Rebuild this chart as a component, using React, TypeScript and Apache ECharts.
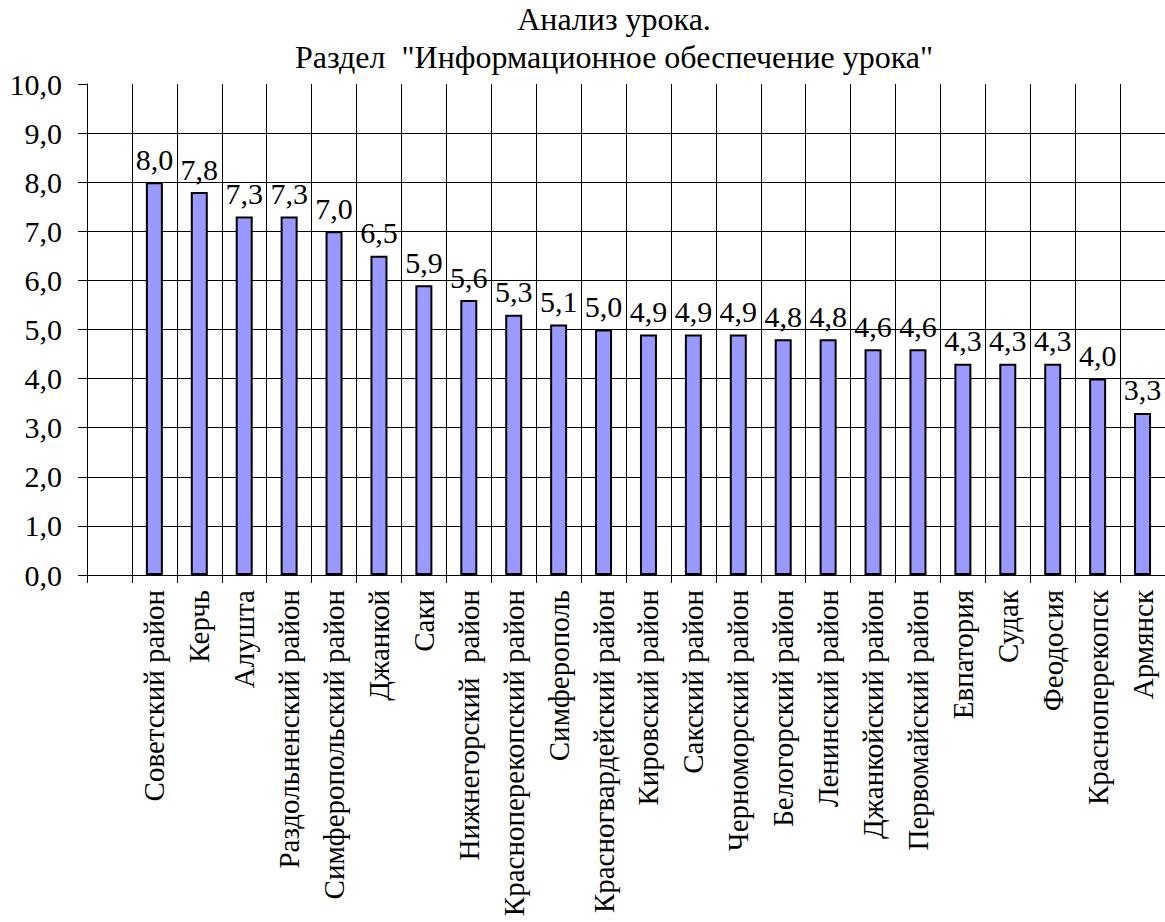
import React, { useEffect, useRef } from "react";
import * as echarts from "echarts";

const categories: string[] = [
  "",
  "Советский район",
  "Керчь",
  "Алушта",
  "Раздольненский район",
  "Симферопольский район",
  "Джанкой",
  "Саки",
  "Нижнегорский  район",
  "Красноперекопский район",
  "Симферополь",
  "Красногвардейский район",
  "Кировский район",
  "Сакский район",
  "Черноморский район",
  "Белогорский район",
  "Ленинский район",
  "Джанкойский район",
  "Первомайский район",
  "Евпатория",
  "Судак",
  "Феодосия",
  "Красноперекопск",
  "Армянск",
];

const values: (number | string)[] = [
  "-", 8.0, 7.8, 7.3, 7.3, 7.0, 6.5, 5.9, 5.6, 5.3, 5.1, 5.0, 4.9, 4.9, 4.9, 4.8, 4.8, 4.6, 4.6, 4.3, 4.3, 4.3, 4.0, 3.3,
];

const titleLines: string[] = [
  "Анализ урока.",
  'Раздел  "Информационное обеспечение урока"',
];

const fmt = (v: number) => v.toFixed(1).replace(".", ",");
const FONT = "Liberation Serif";

export default function App() {
  const ref = useRef<HTMLDivElement>(null);
  useEffect(() => {
    if (!ref.current) return;
    const chart = echarts.init(ref.current, undefined, { renderer: "svg" });
    chart.setOption({
      animation: false,
      backgroundColor: "#ffffff",
      graphic: titleLines.map((t, i) => ({
        type: "text",
        x: 614,
        y: 19 + i * 38,
        style: {
          text: t,
          fontFamily: FONT,
          fontSize: 32,
          fill: "#000",
          textAlign: "center",
          textVerticalAlign: "middle",
        },
      })),
      grid: { left: 87, right: 0, top: 84, bottom: 347, containLabel: false },
      xAxis: {
        type: "category",
        data: categories,
        boundaryGap: true,
        axisLine: { show: true, lineStyle: { color: "#000", width: 1 } },
        axisTick: { show: true, length: 8, alignWithLabel: false, interval: 0, lineStyle: { color: "#000" } },
        splitLine: { show: true, interval: 0, lineStyle: { color: "#000", width: 1 } },
        axisLabel: {
          interval: 0,
          rotate: 90,
          margin: 15,
          fontFamily: FONT,
          fontSize: 29,
          color: "#000",
        },
      },
      yAxis: {
        type: "value",
        min: 0,
        max: 10,
        interval: 1,
        axisLine: { show: true, lineStyle: { color: "#000", width: 1 } },
        axisTick: { show: true, length: 9, lineStyle: { color: "#000" } },
        splitLine: { show: true, showMaxLine: false, lineStyle: { color: "#000", width: 1 } },
        axisLabel: {
          margin: 25,
          fontFamily: FONT,
          fontSize: 30,
          color: "#000",
          formatter: (v: number) => fmt(v),
        },
      },
      series: [
        {
          type: "bar",
          data: values,
          barWidth: 17,
          itemStyle: { color: "#9999FF", borderColor: "#000", borderWidth: 2 },
          label: {
            show: true,
            position: "top",
            distance: 8,
            fontFamily: FONT,
            fontSize: 30,
            color: "#000",
            formatter: (p: any) => (typeof p.value === "number" ? fmt(p.value) : ""),
          },
        },
      ],
    });
    return () => chart.dispose();
  }, []);
  return (
    <div
      ref={ref}
      style={{ position: "absolute", left: 0, top: 0, width: 1165, height: 922 }}
    />
  );
}
